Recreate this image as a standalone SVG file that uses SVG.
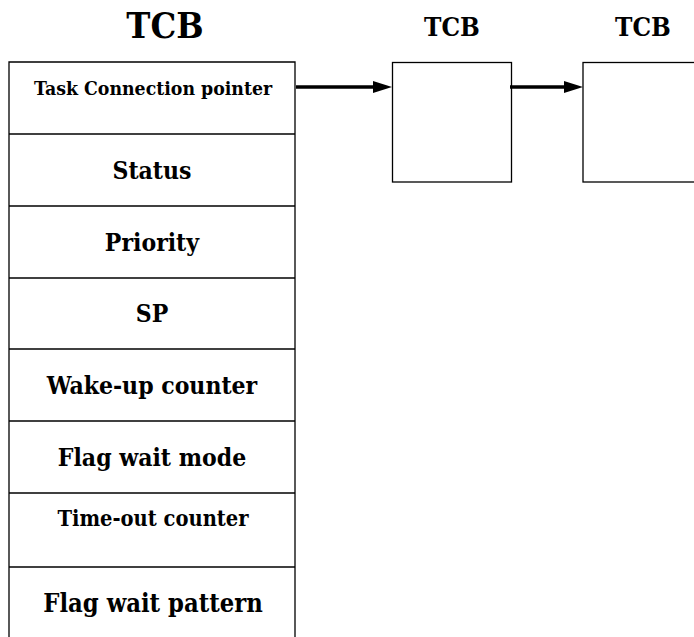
<svg xmlns="http://www.w3.org/2000/svg" width="694" height="637" viewBox="0 0 694 637">
<style>
text{font-family:"DejaVu Serif Condensed","DejaVu Serif","Liberation Serif",serif;font-stretch:condensed;font-weight:bold;fill:#000;text-anchor:middle}
.box{fill:#fff;stroke:#000;stroke-width:1.3}
.ln{stroke:#000;stroke-width:1.3}
.arr{stroke:#000;stroke-width:3.5;fill:none}
.f{font-size:24.5px}
</style>
<rect width="694" height="637" fill="#fff"/>
<g id="tcb-main">
<text x="165" y="38" style="font-size:36px">TCB</text>
<path class="ln" d="M9,637 V62 H295 V637" fill="none"/>
<line class="ln" x1="9" y1="134" x2="295" y2="134"/>
<line class="ln" x1="9" y1="206" x2="295" y2="206"/>
<line class="ln" x1="9" y1="278" x2="295" y2="278"/>
<line class="ln" x1="9" y1="349" x2="295" y2="349"/>
<line class="ln" x1="9" y1="421" x2="295" y2="421"/>
<line class="ln" x1="9" y1="493" x2="295" y2="493"/>
<line class="ln" x1="9" y1="567" x2="295" y2="567"/>
<text x="153" y="95" style="font-size:19.3px">Task Connection pointer</text>
<text class="f" x="152" y="179">Status</text>
<text class="f" x="152" y="251">Priority</text>
<text class="f" x="152" y="322">SP</text>
<text class="f" x="152" y="394">Wake-up counter</text>
<text class="f" x="152" y="466">Flag wait mode</text>
<text x="153" y="526" style="font-size:21.7px">Time-out counter</text>
<text x="153" y="612" style="font-size:25.3px">Flag wait pattern</text>
</g>
<g id="tcb-2">
<text x="452" y="36" style="font-size:26px">TCB</text>
<rect class="box" x="392.5" y="62.5" width="119" height="119.5"/>
</g>
<g id="tcb-3">
<text x="643" y="36" style="font-size:26px">TCB</text>
<rect class="box" x="583" y="62.5" width="130" height="119.5"/>
</g>
<g id="connectors">
<line class="arr" x1="296" y1="87" x2="373" y2="87"/>
<path d="M373,81 L392,87 L373,93 Z" fill="#000"/>
<line class="arr" x1="510" y1="87" x2="565" y2="87"/>
<path d="M564,81 L583,87 L564,93 Z" fill="#000"/>
</g>
</svg>
